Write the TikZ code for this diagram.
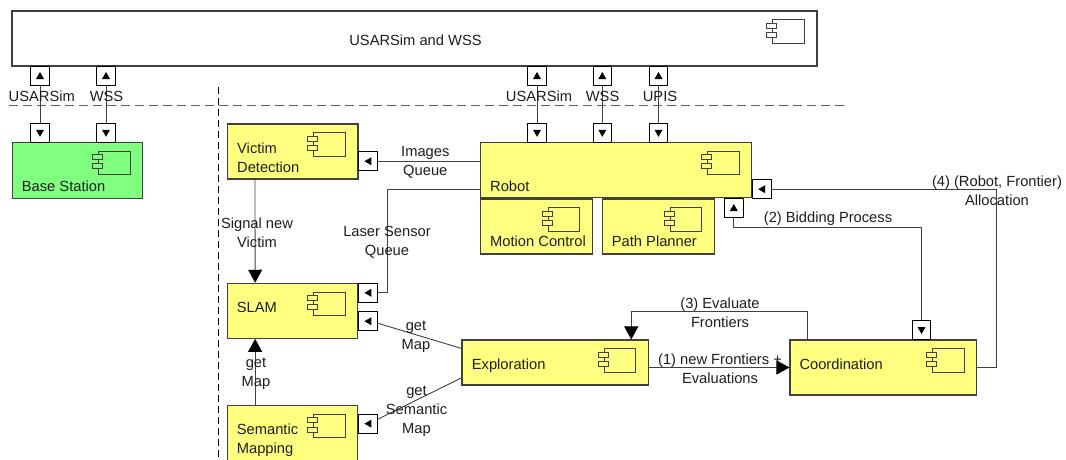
\documentclass[tikz,border=0pt]{standalone}
\usepackage{fontspec}
\setmainfont{Liberation Sans}
\usetikzlibrary{arrows.meta,calc}
\definecolor{yel}{HTML}{FFFF80}
\definecolor{grn}{HTML}{80FF80}
\definecolor{edgec}{HTML}{404040}
\definecolor{txt}{HTML}{1E1E1E}
\definecolor{dashc}{HTML}{606060}
\newcommand\compicon[2]{%
 \begin{scope}[shift={(#1.north east)}, shift={(-13.3,9.3)}]
  \draw[edgec, fill=#2, line width=0.9pt] (-31.6,0) rectangle (0,23.3);
  \draw[edgec, fill=#2, line width=0.9pt] (-37.6,3.3) rectangle (-27.6,8.3);
  \draw[edgec, fill=#2, line width=0.9pt] (-37.6,12.6) rectangle (-27.6,17.6);
 \end{scope}}
\begin{document}
\begin{tikzpicture}[x=1pt,y=-1pt,
  comp/.style={draw=edgec, line width=1.1pt, inner sep=0, rectangle},
  port/.style={draw=black, fill=white, line width=0.9pt, minimum size=18.7pt, inner sep=0},
  conn/.style={draw=edgec, line width=0.9pt},
  arr/.style={conn, -{Triangle[width=14pt,length=13pt,black]}},
  lbl/.style={font=\fontsize{14.7}{18.8}\selectfont, align=center, inner sep=0, text=txt},
  btxt/.style={lbl, anchor=west, align=left},
  tup/.pic={\fill[black] (-4,3.2) -- (4,3.2) -- (0,-3.8) -- cycle;},
  tdown/.pic={\fill[black] (-4,-3.2) -- (4,-3.2) -- (0,3.8) -- cycle;},
  tleft/.pic={\fill[black] (3.2,-4) -- (3.2,4) -- (-3.8,0) -- cycle;}
]
\useasboundingbox (0,0) rectangle (1066,459);
\clip (0,0) rectangle (1066,459);
\fill[white] (0,0) rectangle (1066,459);

% separators
\draw[dashc, line width=0.9pt, dash pattern=on 9pt off 5pt] (8.6,105) -- (846,105);
\draw[black, line width=0.8pt, dash pattern=on 7pt off 4pt] (218.5,87) -- (218.5,459);

% components
\node[comp, fill=white, minimum width=805pt, minimum height=55pt] (top) at (414.5,38.5) {};
\node[comp, fill=grn, minimum width=130.4pt, minimum height=55.8pt] (base) at (77.5,170.4) {};
\node[comp, fill=yel, minimum width=130.5pt, minimum height=55pt] (vd) at (292.75,151.5) {};
\node[comp, fill=yel, minimum width=271pt, minimum height=55.4pt] (robot) at (616.2,170) {};
\node[comp, fill=yel, minimum width=111.6pt, minimum height=55pt] (mc) at (536.5,226.5) {};
\node[comp, fill=yel, minimum width=111.6pt, minimum height=55pt] (pp) at (658.5,226.5) {};
\node[comp, fill=yel, minimum width=130pt, minimum height=55pt] (slam) at (292.7,310.8) {};
\node[comp, fill=yel, minimum width=130pt, minimum height=55pt] (sem) at (292.7,433.2) {};
\node[comp, fill=yel, minimum width=186.3pt, minimum height=45pt] (expl) at (555.15,362.5) {};
\node[comp, fill=yel, minimum width=186.7pt, minimum height=55pt] (coord) at (883.35,367.5) {};

\compicon{top}{white}
\compicon{base}{grn}
\compicon{vd}{yel}
\compicon{robot}{yel}
\compicon{mc}{yel}
\compicon{pp}{yel}
\compicon{slam}{yel}
\compicon{sem}{yel}
\compicon{expl}{yel}
\compicon{coord}{yel}

% component texts
\node[lbl] (ttop) at (415.5,40.6) {USARSim and WSS};
\node[btxt] (tbase) at (21.7,186) {Base Station};
\node[btxt] (trobot) at (490,186) {Robot};
\node[btxt] (tmc) at (490,241.7) {Motion Control};
\node[btxt] (tpp) at (611.7,241.7) {Path Planner};
\node[btxt] (tvd) at (237,157.5) {Victim\\Detection};
\node[btxt] (tslam) at (236.7,307.7) {SLAM};
\node[btxt] (texpl) at (471.7,365.3) {Exploration};
\node[btxt] (tcoord) at (799.3,364) {Coordination};
\node[btxt] (tsem) at (236.7,440) {Semantic\\Mapping};

% ports
\node[port] (pt1) at (40,75.8) {};
\node[port] (pb1) at (40,133) {};
\node[port] (pt2) at (106,75.8) {};
\node[port] (pb2) at (106,133) {};
\node[port] (pt3) at (537,75.8) {};
\node[port] (pb3) at (537,133) {};
\node[port] (pt4) at (602.3,75.8) {};
\node[port] (pb4) at (602.3,133) {};
\node[port] (pt5) at (658.5,75.8) {};
\node[port] (pb5) at (658.5,133) {};
\node[port] (pvd) at (368.2,161.2) {};
\node[port] (ps1) at (368.2,292.8) {};
\node[port] (ps2) at (368.2,321.2) {};
\node[port] (psm) at (368.2,423.7) {};
\node[port] (prr) at (762,189.2) {};
\node[port] (pbid) at (733.8,207.8) {};
\node[port] (pco) at (921.5,330.2) {};

\foreach \p in {pt1,pt2,pt3,pt4,pt5,pbid} \pic at (\p) {tup};
\foreach \p in {pb1,pb2,pb3,pb4,pb5,pco} \pic at (\p) {tdown};
\foreach \p in {pvd,ps1,ps2,psm,prr} \pic at (\p) {tleft};

% connectors
\draw[conn] (pt1) -- (pb1);
\draw[conn] (pt2) -- (pb2);
\draw[conn] (pt3) -- (pb3);
\draw[conn] (pt4) -- (pb4);
\draw[conn] (pt5) -- (pb5);
\draw[conn] (pvd.east) -- (pvd.east -| robot.west);
\draw[conn] ($(robot.west)+(0,19.3)$) -| ($(ps1.east)+(9.75,0)$) -- (ps1.east);
\draw[conn] (ps2.-12) -- ($(expl.north west)+(0,9)$);
\draw[conn] (psm.25) -- ($(expl.south west)+(0,-7.7)$);
\draw[arr] ($(vd.south west)+(28,0)$) -- ($(slam.north west)+(28,0)$);
\draw[arr] ($(sem.north west)+(28,0)$) -- ($(slam.south west)+(28,0)$);
\coordinate (c4) at (996,367.5);
\draw[conn] (prr.east) -| (c4) -- (coord.east);
\draw[conn] (pbid.south) -- ++(0,9.4) -| (pco.north);
\draw[arr] ($(coord.north west)+(18.3,0)$) -- ++(0,-28.3) -| ($(expl.north east)+(-17.6,0)$);
\draw[arr] (expl.east |- coord.west) -- (coord.west);

% labels
\node[lbl] (l1) at (41.8,96) {USARSim};
\node[lbl] (l2) at (106.5,96) {WSS};
\node[lbl] (l3) at (539,96) {USARSim};
\node[lbl] (l4) at (602.6,96) {WSS};
\node[lbl] (l5) at (660,96) {UPIS};
\node[lbl] (limg) at (425.3,162.5) {Images\\Queue};
\node[lbl] (lsig) at (257,232.5) {Signal new\\Victim};
\node[lbl] (llas) at (387,242.5) {Laser Sensor\\Queue};
\node[lbl] (lgm1) at (416,336.5) {get\\Map};
\node[lbl] (lgsm) at (416.5,411) {get\\Semantic\\Map};
\node[lbl] (lgm2) at (256,373.5) {get\\Map};
\node[lbl] (lbid) at (828,218.5) {(2) Bidding Process};
\node[lbl] (lall) at (997,190.5) {(4) (Robot, Frontier)\\Allocation};
\node[lbl] (lev) at (720,312.5) {(3) Evaluate\\Frontiers};
\node[lbl] (lnew) at (720,368.5) {(1) new Frontiers +\\Evaluations};
\end{tikzpicture}
\end{document}
